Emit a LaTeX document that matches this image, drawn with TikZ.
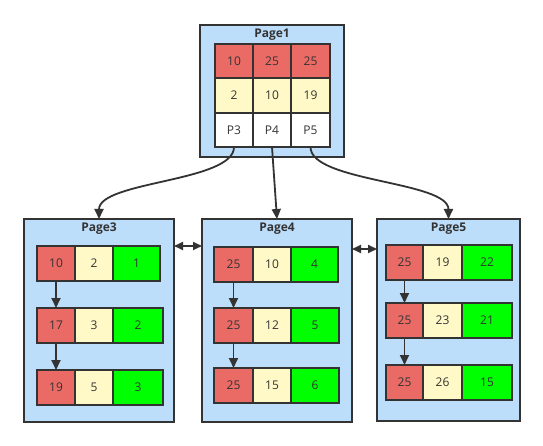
\documentclass[tikz,border=0pt]{standalone}
\usepackage{fontspec}
\setmainfont{Open Sans}
\usetikzlibrary{arrows.meta}
\definecolor{pagebg}{HTML}{BDDEFA}
\definecolor{cred}{HTML}{EA6B66}
\definecolor{cyel}{HTML}{FFF9C8}
\definecolor{cgrn}{HTML}{00FF00}
\definecolor{edgec}{HTML}{333333}
\newcommand\cellrow[9]{%
  \node[cell,fill=cred,minimum width=#4pt] (#1a) at (#2,#3) {#7};
  \node[cell,fill=cyel,minimum width=#5pt] (#1b) at (#1a.north east) {#8};
  \node[cell,fill=cgrn,minimum width=#6pt] (#1c) at (#1b.north east) {#9};}
\begin{document}
\begin{tikzpicture}[x=1pt,y=-1pt,
  page/.style={draw=edgec, line width=2.2pt, fill=pagebg, anchor=north west, inner sep=0pt, outer sep=0pt},
  cell/.style={draw=edgec, line width=2.2pt, anchor=north west, inner sep=0pt, outer sep=0pt, minimum height=35pt, font=\fontsize{12}{14}\selectfont, text=edgec},
  ptitle/.style={anchor=north, inner sep=0pt, font=\fontsize{12}{14}\selectfont\bfseries, text=edgec},
  conn/.style={draw=edgec, line width=1.8pt, -{Triangle[length=10pt,width=9pt]}},
  dbl/.style={draw=edgec, line width=1.8pt, {Triangle[length=9pt,width=8pt]}-{Triangle[length=9pt,width=8pt]}}]
\useasboundingbox[fill=white] (0,0) rectangle (543,446);
% pages
\node[page, minimum width=144pt, minimum height=132pt] (p1) at (200,25) {};
\node[page, minimum width=150pt, minimum height=203pt] (p3) at (24,219) {};
\node[page, minimum width=150pt, minimum height=203pt] (p4) at (202,219) {};
\node[page, minimum width=143pt, minimum height=202pt] (p5) at (377,219) {};
\node[ptitle] (p1t) at ([yshift=-3.5pt]p1.north) {Page1};
\node[ptitle] (p3t) at ([yshift=-3.5pt]p3.north) {Page3};
\node[ptitle] (p4t) at ([yshift=-3.5pt]p4.north) {Page4};
\node[ptitle] (p5t) at ([yshift=-3.5pt]p5.north) {Page5};
% page1 cells
\node[cell,fill=cred,minimum width=38pt,minimum height=34pt] (k1) at (215,44) {10};
\node[cell,fill=cred,minimum width=38pt,minimum height=34pt] (k2) at (k1.north east) {25};
\node[cell,fill=cred,minimum width=39pt,minimum height=34pt] (k3) at (k2.north east) {25};
\node[cell,fill=cyel,minimum width=38pt] (v1) at (k1.south west) {2};
\node[cell,fill=cyel,minimum width=38pt] (v2) at (v1.north east) {10};
\node[cell,fill=cyel,minimum width=39pt] (v3) at (v2.north east) {19};
\node[cell,fill=white,minimum width=38pt,minimum height=34pt] (q3) at (v1.south west) {P3};
\node[cell,fill=white,minimum width=38pt,minimum height=34pt] (q4) at (q3.north east) {P4};
\node[cell,fill=white,minimum width=39pt,minimum height=34pt] (q5) at (q4.north east) {P5};
% page3 rows
\cellrow{p3r1}{37}{246}{38}{38}{47}{10}{2}{1}
\cellrow{p3r2}{37}{308}{38}{38}{50}{17}{3}{2}
\cellrow{p3r3}{37}{370}{38}{38}{50}{19}{5}{3}
% page4 rows
\cellrow{p4r1}{214}{247}{39}{38}{47}{25}{10}{4}
\cellrow{p4r2}{214}{308}{39}{38}{48}{25}{12}{5}
\cellrow{p4r3}{214}{368}{39}{38}{48}{25}{15}{6}
% page5 rows
\cellrow{p5r1}{386}{245}{37}{39}{50}{25}{19}{22}
\cellrow{p5r2}{386}{303}{37}{39}{50}{25}{23}{21}
\cellrow{p5r3}{386}{365}{37}{39}{50}{25}{26}{15}
% connectors from page1
\draw[conn] (q3.south) .. controls ([yshift=-35pt]q3.south) and ([yshift=38pt]p3.north) .. (p3.north);
\draw[conn] (q4.south) -- (p4.north);
\draw[conn] (q5.south) .. controls ([yshift=-35pt]q5.south) and ([yshift=38pt]p5.north) .. (p5.north);
% sibling links
\draw[dbl] (p3r1c.north -| p3.east) -- (p3r1c.north -| p4.west);
\draw[dbl] ([yshift=-2pt]p4r1c.north -| p4.east) -- ([yshift=-2pt]p4r1c.north -| p5.west);
% row links
\foreach \p in {p3,p4,p5}{
  \draw[conn] (\p r1a.south) -- (\p r2a.north);
  \draw[conn] (\p r2a.south) -- (\p r3a.north);
}
\end{tikzpicture}
\end{document}
